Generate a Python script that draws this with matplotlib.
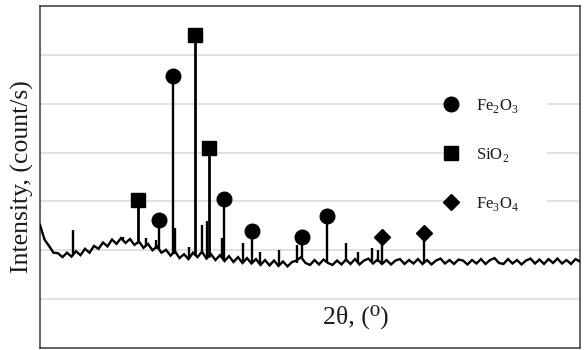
import numpy as np
import matplotlib
matplotlib.use("Agg")
import matplotlib.pyplot as plt
from matplotlib.patches import Rectangle

# ---------------- data (2θ in degrees, intensity in grid units) ----------------
base_2theta = [10.0, 10.5, 11.0, 11.5, 12.0, 12.5, 13.0, 13.5, 14.0, 14.5,
               15.0, 15.5, 16.0, 16.5, 17.0, 17.5, 18.0, 18.5, 19.0, 19.5,
               20.0, 20.5, 21.0, 21.5, 22.0, 22.5, 23.0, 23.5, 24.0, 24.5,
               25.0, 25.5, 26.0, 26.5, 27.0, 27.5, 28.0, 28.5, 29.0, 29.5,
               30.0, 30.5, 31.0, 31.5, 32.0, 32.5, 33.0, 33.5, 34.0, 34.5,
               35.0, 35.5, 36.0, 36.5, 37.0, 37.5, 38.0, 38.5, 39.0, 39.5,
               40.0, 40.5, 41.0, 41.5, 42.0, 42.5, 43.0, 43.5, 44.0, 44.5,
               45.0, 45.5, 46.0, 46.5, 47.0, 47.5, 48.0, 48.5, 49.0, 49.5,
               50.0, 50.5, 51.0, 51.5, 52.0, 52.5, 53.0, 53.5, 54.0, 54.5,
               55.0, 55.5, 56.0, 56.5, 57.0, 57.5, 58.0, 58.5, 59.0, 59.5,
               60.0, 60.5, 61.0, 61.5, 62.0, 62.5, 63.0, 63.5, 64.0, 64.5,
               65.0, 65.5, 66.0, 66.5, 67.0, 67.5, 68.0, 68.5, 69.0, 69.5,
               70.0]
base_intensity = [2.52, 2.22, 2.09, 1.95, 1.94, 1.86, 1.95, 1.87, 1.98, 1.90,
                  2.03, 1.95, 2.09, 2.03, 2.16, 2.08, 2.22, 2.13, 2.25, 2.15,
                  2.23, 2.11, 2.18, 2.05, 2.13, 2.00, 2.08, 1.95, 2.01, 1.89,
                  1.98, 1.84, 1.92, 1.82, 1.95, 1.86, 1.97, 1.83, 1.92, 1.80,
                  1.90, 1.78, 1.88, 1.76, 1.86, 1.74, 1.84, 1.73, 1.82, 1.70,
                  1.80, 1.69, 1.79, 1.68, 1.77, 1.67, 1.76, 1.79, 1.86, 1.74,
                  1.70, 1.80, 1.71, 1.81, 1.74, 1.70, 1.79, 1.71, 1.81, 1.72,
                  1.82, 1.71, 1.79, 1.83, 1.73, 1.81, 1.72, 1.80, 1.71, 1.79,
                  1.82, 1.72, 1.80, 1.73, 1.82, 1.72, 1.80, 1.71, 1.79, 1.83,
                  1.73, 1.80, 1.72, 1.81, 1.79, 1.71, 1.80, 1.73, 1.82, 1.72,
                  1.80, 1.84, 1.74, 1.72, 1.82, 1.73, 1.80, 1.71, 1.79, 1.83,
                  1.73, 1.81, 1.72, 1.82, 1.74, 1.83, 1.73, 1.80, 1.72, 1.82,
                  1.77]

# minor, unlabelled reflections
minor_2theta = [13.67, 19.2, 21.8, 22.9, 24.95, 26.6, 28.03, 28.55, 30.2, 32.56,
                34.44, 36.6, 38.6, 44.0, 45.33, 46.89, 47.6]
minor_top = [2.41, 2.28, 2.25, 2.22, 2.46, 2.07, 2.52, 2.60, 2.25, 2.15,
             1.96, 2.00, 2.10, 2.15, 1.96, 2.05, 2.00]
minor_foot = [1.93, 2.20, 2.09, 2.03, 1.93, 1.86, 1.93, 1.86, 1.86, 1.78,
              1.75, 1.72, 1.75, 1.78, 1.75, 1.78, 1.76]

# labelled reflections by phase
fe2o3_2theta = [23.22, 24.78, 30.44, 33.56, 39.11, 41.89]
fe2o3_top = [2.62, 5.57, 3.05, 2.39, 2.27, 2.70]
fe2o3_foot = [2.03, 1.93, 1.82, 1.77, 1.82, 1.76]

sio2_2theta = [20.89, 27.22, 28.78]
sio2_top = [3.03, 6.41, 4.09]
sio2_foot = [2.14, 1.91, 1.87]

fe3o4_2theta = [48.0, 52.67]
fe3o4_top = [2.27, 2.35]
fe3o4_foot = [1.76, 1.77]

phase_labels = ["Fe$_\\mathregular{2}$O$_\\mathregular{3}$",
                "SiO$_\\mathregular{2}$",
                "Fe$_\\mathregular{3}$O$_\\mathregular{4}$"]

# ---------------- style ----------------
plt.rcParams['font.family'] = ['Liberation Serif', 'DejaVu Serif']
plt.rcParams['mathtext.fontset'] = 'custom'
plt.rcParams['mathtext.rm'] = 'Liberation Serif'
txt = '#1a1a1a'

fig = plt.figure(figsize=(5.84, 3.5), dpi=100)
ax = fig.add_axes([40/584, 2/350, 540/584, 342/350])

ax.set_xlim(10, 70)
ax.set_ylim(0, 7)
ax.set_yticks(range(0, 8))
ax.set_xticks([])
ax.tick_params(axis='both', length=0, labelleft=False, labelbottom=False)
ax.grid(axis='y', color='#d9d9d9', linewidth=1.1)
ax.set_axisbelow(True)
for s in ax.spines.values():
    s.set_color('#3a3a3a')
    s.set_linewidth(1.1)

lw = 1.7
ax.plot(base_2theta, base_intensity, color='black', lw=lw, zorder=3,
        solid_joinstyle='miter')
ax.vlines(minor_2theta, minor_foot, minor_top, color='black', lw=lw, zorder=3)
ax.vlines(fe2o3_2theta, fe2o3_foot, fe2o3_top, color='black', lw=lw, zorder=3)
ax.vlines(sio2_2theta, sio2_foot, sio2_top, color='black', lw=lw + 0.3, zorder=3)
ax.vlines(fe3o4_2theta, fe3o4_foot, fe3o4_top, color='black', lw=lw, zorder=3)

h1, = ax.plot(fe2o3_2theta, fe2o3_top, 'o', color='black', ms=10.5, ls='none',
              zorder=4, label=phase_labels[0])
h2, = ax.plot(sio2_2theta, sio2_top, 's', color='black', ms=10.5, ls='none',
              zorder=4, label=phase_labels[1])
h3, = ax.plot(fe3o4_2theta, fe3o4_top, 'D', color='black', ms=8, ls='none',
              zorder=4, label=phase_labels[2])

# white panel behind the legend labels
ax.add_patch(Rectangle((0.772, 0.38), 0.167, 0.37, transform=ax.transAxes,
                       facecolor='white', edgecolor='none', zorder=1))

leg = ax.legend(handles=[h1, h2, h3], loc='upper left',
                bbox_to_anchor=(0.745, 0.735), frameon=False,
                borderpad=0, borderaxespad=0, handlelength=1.0,
                handletextpad=1.0, labelspacing=1.86, fontsize=12,
                labelcolor=txt)
leg.set_zorder(5)

ax.set_ylabel('Intensity, (count/s)', fontsize=18.5, color=txt, labelpad=4)
ax.set_xlabel('2θ, (⁰)', fontsize=18.5, color=txt)
ax.xaxis.set_label_coords(0.585, 0.128)

fig.savefig('out.png', dpi=100)
